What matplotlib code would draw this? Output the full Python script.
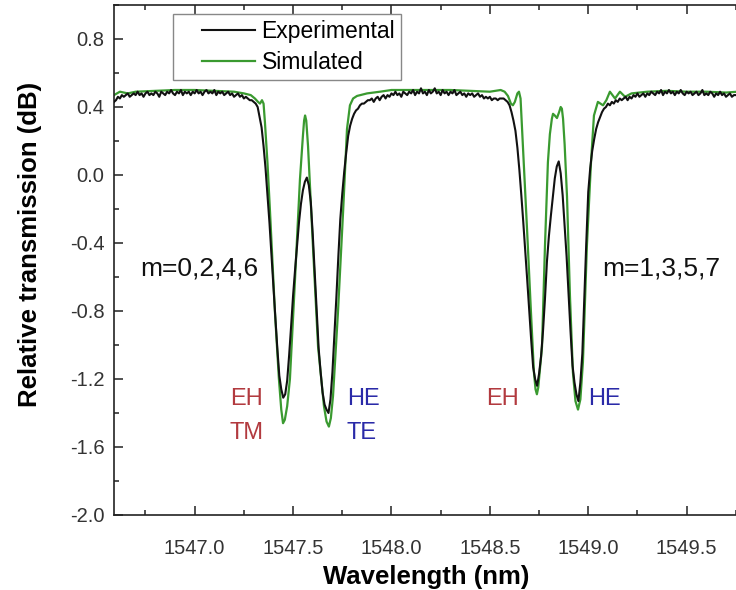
import numpy as np
import matplotlib
matplotlib.use('Agg')
import matplotlib.pyplot as plt
from matplotlib.legend_handler import HandlerLine2D

plt.rcParams['font.family'] = ['Liberation Sans', 'DejaVu Sans']
plt.rcParams['axes.unicode_minus'] = False

# Experimental trace, sampled every 0.01 nm, split into segments (start wavelength, values)
exp_starts = [1546.59, 1547.29, 1547.89, 1548.56, 1549.11]
exp_seg1 = [0.43, 0.44, 0.46, 0.45, 0.47, 0.46, 0.47, 0.48, 0.46, 0.47,
            0.48, 0.47, 0.49, 0.47, 0.48, 0.46, 0.48, 0.49, 0.47, 0.48,
            0.47, 0.49, 0.48, 0.46, 0.49, 0.48, 0.47, 0.49, 0.48, 0.50,
            0.48, 0.47, 0.49, 0.48, 0.50, 0.47, 0.49, 0.48, 0.49, 0.47,
            0.49, 0.48, 0.50, 0.48, 0.49, 0.47, 0.49, 0.50, 0.48, 0.49,
            0.48, 0.50, 0.47, 0.49, 0.48, 0.49, 0.47, 0.48, 0.49, 0.47,
            0.48, 0.46, 0.47, 0.48, 0.46, 0.47, 0.45, 0.46, 0.45, 0.44]
exp_seg2 = [0.44, 0.43, 0.42, 0.40, 0.34, 0.28, 0.17, 0.04, -0.12, -0.28,
            -0.47, -0.67, -0.84, -1.02, -1.18, -1.26, -1.31, -1.29, -1.21, -1.06,
            -0.89, -0.71, -0.56, -0.42, -0.28, -0.17, -0.09, -0.04, -0.015, -0.06,
            -0.16, -0.35, -0.57, -0.80, -1.02, -1.16, -1.28, -1.35, -1.38, -1.40,
            -1.32, -1.16, -0.94, -0.72, -0.48, -0.26, -0.11, 0.02, 0.13, 0.23,
            0.29, 0.33, 0.36, 0.38, 0.39, 0.41, 0.42, 0.42, 0.43, 0.44]
exp_seg3 = [0.44, 0.45, 0.43, 0.45, 0.46, 0.44, 0.46, 0.47, 0.45, 0.47,
            0.46, 0.48, 0.47, 0.49, 0.47, 0.48, 0.46, 0.49, 0.48, 0.47,
            0.49, 0.48, 0.50, 0.47, 0.49, 0.48, 0.51, 0.48, 0.49, 0.47,
            0.50, 0.48, 0.49, 0.51, 0.48, 0.49, 0.47, 0.50, 0.48, 0.49,
            0.47, 0.49, 0.48, 0.50, 0.47, 0.48, 0.49, 0.47, 0.48, 0.46,
            0.48, 0.47, 0.48, 0.46, 0.47, 0.48, 0.46, 0.47, 0.45, 0.46,
            0.45, 0.46, 0.44, 0.45, 0.45, 0.44, 0.45]
exp_seg4 = [0.45, 0.45, 0.44, 0.43, 0.41, 0.37, 0.32, 0.26, 0.16, 0.03,
            -0.12, -0.28, -0.45, -0.62, -0.80, -0.97, -1.13, -1.20, -1.24, -1.17,
            -1.07, -0.92, -0.73, -0.51, -0.36, -0.24, -0.13, -0.02, 0.05, 0.08,
            0.01, -0.12, -0.30, -0.48, -0.70, -0.92, -1.12, -1.22, -1.29, -1.33,
            -1.22, -1.05, -0.72, -0.40, -0.10, 0.04, 0.14, 0.21, 0.27, 0.31,
            0.34, 0.37, 0.39, 0.40, 0.42]
exp_seg5 = [0.41, 0.43, 0.42, 0.44, 0.43, 0.45, 0.44, 0.45, 0.46, 0.44,
            0.46, 0.45, 0.47, 0.46, 0.48, 0.46, 0.47, 0.48, 0.46, 0.48,
            0.47, 0.49, 0.48, 0.47, 0.49, 0.48, 0.50, 0.47, 0.49, 0.48,
            0.50, 0.48, 0.49, 0.47, 0.49, 0.48, 0.50, 0.48, 0.47, 0.49,
            0.48, 0.49, 0.47, 0.48, 0.49, 0.47, 0.48, 0.50, 0.47, 0.48,
            0.47, 0.49, 0.48, 0.46, 0.48, 0.47, 0.49, 0.47, 0.48, 0.46,
            0.47, 0.48, 0.46, 0.47, 0.47]
exp_segs = [exp_seg1, exp_seg2, exp_seg3, exp_seg4, exp_seg5]

# Simulated trace
sim_wl = [1546.59, 1546.62, 1546.66, 1546.70, 1546.80, 1546.90, 1547.00, 1547.10,
          1547.20, 1547.25, 1547.285, 1547.306, 1547.322, 1547.332, 1547.342, 1547.350,
          1547.357, 1547.370, 1547.383, 1547.408, 1547.428, 1547.440, 1547.449, 1547.458,
          1547.470, 1547.484, 1547.510, 1547.535, 1547.550, 1547.556, 1547.561, 1547.567,
          1547.576, 1547.601, 1547.627, 1547.657, 1547.670, 1547.682, 1547.692, 1547.703,
          1547.728, 1547.754, 1547.774, 1547.789, 1547.805, 1547.825, 1547.876, 1547.942,
          1548.00, 1548.10, 1548.20, 1548.30, 1548.40, 1548.50, 1548.555, 1548.575,
          1548.592, 1548.607, 1548.617, 1548.627, 1548.640, 1548.648, 1548.656, 1548.668,
          1548.689, 1548.709, 1548.724, 1548.732, 1548.739, 1548.746, 1548.765, 1548.780,
          1548.795, 1548.805, 1548.815, 1548.821, 1548.830, 1548.841, 1548.852, 1548.860,
          1548.866, 1548.872, 1548.880, 1548.892, 1548.907, 1548.922, 1548.935, 1548.948,
          1548.960, 1548.973, 1548.993, 1549.014, 1549.029, 1549.049, 1549.062, 1549.075,
          1549.092, 1549.110, 1549.136, 1549.161, 1549.187, 1549.22, 1549.30, 1549.40,
          1549.50, 1549.60, 1549.70, 1549.76]
sim_db = [0.47, 0.49, 0.48, 0.49, 0.495, 0.50, 0.50, 0.495,
          0.49, 0.48, 0.47, 0.45, 0.43, 0.42, 0.44, 0.42,
          0.31, 0.07, -0.22, -0.81, -1.20, -1.38, -1.46, -1.44,
          -1.36, -1.20, -0.61, -0.025, 0.23, 0.32, 0.35, 0.32,
          0.17, -0.42, -1.01, -1.36, -1.45, -1.48, -1.43, -1.30,
          -0.81, -0.22, 0.27, 0.41, 0.45, 0.465, 0.48, 0.49,
          0.50, 0.50, 0.50, 0.50, 0.495, 0.49, 0.50, 0.49,
          0.465, 0.42, 0.41, 0.43, 0.48, 0.49, 0.45, 0.17,
          -0.32, -0.81, -1.16, -1.26, -1.29, -1.25, -1.01, -0.42,
          0.075, 0.24, 0.33, 0.36, 0.35, 0.335, 0.37, 0.40,
          0.39, 0.33, 0.18, -0.125, -0.71, -1.16, -1.33, -1.38,
          -1.32, -1.10, -0.42, 0.075, 0.35, 0.43, 0.42, 0.41,
          0.44, 0.49, 0.45, 0.49, 0.46, 0.48, 0.49, 0.495,
          0.49, 0.49, 0.485, 0.49]

# Mode labels: (text, wavelength, dB, colour, size)
mode_labels = [('m=0,2,4,6', 1546.722, -0.55, '#111111', 19),
               ('m=1,3,5,7', 1549.070, -0.55, '#111111', 19),
               ('EH', 1547.179, -1.32, '#b23a3f', 17),
               ('TM', 1547.179, -1.52, '#b23a3f', 17),
               ('HE', 1547.774, -1.32, '#2a2aa8', 17),
               ('TE', 1547.774, -1.52, '#2a2aa8', 17),
               ('EH', 1548.480, -1.32, '#b23a3f', 17),
               ('HE', 1548.998, -1.32, '#2a2aa8', 17)]

y_ticks = [-2.0, -1.6, -1.2, -0.8, -0.4, 0.0, 0.4, 0.8]
y_minor = [-1.8, -1.4, -1.0, -0.6, -0.2, 0.2, 0.6, 1.0]
x_ticks = [1547.0, 1547.5, 1548.0, 1548.5, 1549.0, 1549.5]
x_minor = [1546.75, 1547.25, 1547.75, 1548.25, 1548.75, 1549.25, 1549.75]

exp_wl = np.concatenate([s + 0.01 * np.arange(len(v)) for s, v in zip(exp_starts, exp_segs)])
exp_db = np.concatenate([np.array(v) for v in exp_segs])

fig = plt.figure(figsize=(7.36, 5.9), dpi=100)
ax = fig.add_axes([114 / 736, 75 / 590, 624 / 736, 510 / 590])

ax.plot(exp_wl, exp_db, color='#111111', linewidth=1.5, label='Experimental', zorder=3)
ax.plot(sim_wl, sim_db, color='#3a9a30', linewidth=1.6, label='Simulated', zorder=2)

for txt, x, y, c, fs in mode_labels:
    ax.text(x, y, txt, color=c, fontsize=fs, ha='left', va='center')

ax.set_xlim(1546.59, 1549.761)
ax.set_ylim(-2.0, 1.0)
ax.set_xticks(x_ticks)
ax.set_xticks(x_minor, minor=True)
ax.set_yticks(y_ticks)
ax.set_yticks(y_minor, minor=True)
ax.xaxis.set_major_formatter(matplotlib.ticker.FormatStrFormatter('%.1f'))
ax.yaxis.set_major_formatter(matplotlib.ticker.FormatStrFormatter('%.1f'))
ax.tick_params(which='both', direction='in', top=True, right=False,
               width=1.1, color='#222222', labelcolor='#333333')
ax.tick_params(which='major', length=6.5, labelsize=14.5)
ax.tick_params(axis='x', which='major', pad=17)
ax.tick_params(axis='y', which='major', pad=7)
ax.tick_params(which='minor', length=3.5)
for sp in ax.spines.values():
    sp.set_linewidth(1.2)
    sp.set_color('#222222')

ax.set_xlabel('Wavelength (nm)', fontsize=18.5, fontweight='bold')
ax.set_ylabel('Relative transmission (dB)', fontsize=18.5, fontweight='bold')
ax.xaxis.set_label_coords(0.5, -0.098)
ax.yaxis.set_label_coords(-0.115, 0.53)

leg = ax.legend(loc='upper left', bbox_to_anchor=(0.095, 0.982), borderaxespad=0,
                fontsize=16.5, frameon=True, fancybox=False, framealpha=1,
                edgecolor='#888888', borderpad=0.25, labelspacing=0.35,
                handlelength=3.3, handletextpad=0.3,
                handler_map={plt.Line2D: HandlerLine2D(xpad=1.0)})
leg.get_frame().set_linewidth(1.0)

fig.savefig('out.png', dpi=100)
